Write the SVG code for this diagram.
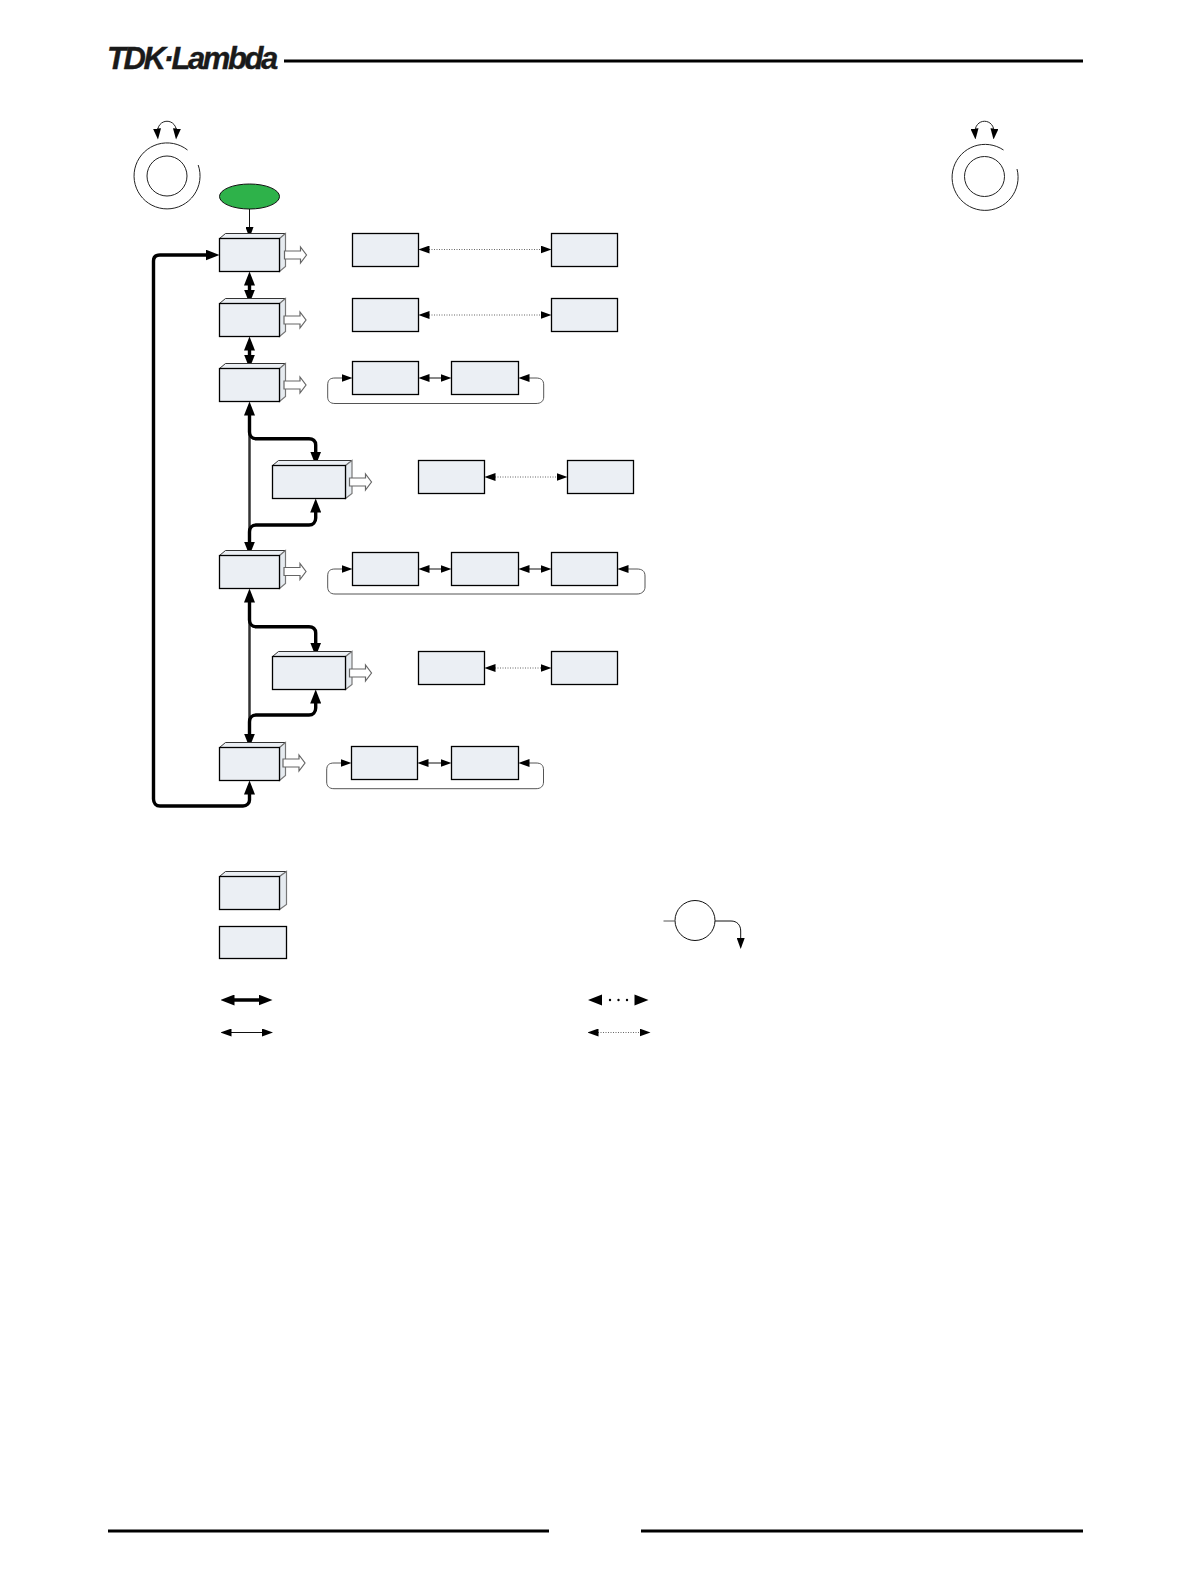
<svg xmlns="http://www.w3.org/2000/svg" width="1191" height="1588" viewBox="0 0 1191 1588">
<style>
.box{fill:#ebeff4;stroke:#000;stroke-width:1.3;stroke-linejoin:miter}
.face{fill:#ebeff4;stroke:#333;stroke-width:1}
.side{fill:#e6ebf0;stroke:#777;stroke-width:1.2}
.out{fill:#fff;stroke:#666;stroke-width:1.2}
.rule{stroke:#000;stroke-width:3;fill:none}
.thick{fill:none;stroke:#000;stroke-width:3.400}
.trunk{fill:none;stroke:#333;stroke-width:2.5}
.thin{fill:none;stroke:#111;stroke-width:1}
.loop{fill:none;stroke:#555;stroke-width:1}
.dot{fill:none;stroke:#666;stroke-width:1;stroke-dasharray:1 1.5}
.dial{fill:none;stroke:#222;stroke-width:1}
.big{marker-start:url(#hb);marker-end:url(#hb)}
.endb{marker-end:url(#hb)}
.small{marker-start:url(#hs);marker-end:url(#hs)}
.ends{marker-end:url(#hs)}
</style>
<defs>
<marker id="hb" markerUnits="userSpaceOnUse" viewBox="0 0 14 11" refX="7" refY="5.500" markerWidth="14" markerHeight="11" orient="auto-start-reverse"><path d="M0 0L14 5.500L0 11Z" fill="#000"/></marker>
<marker id="hs" markerUnits="userSpaceOnUse" viewBox="0 0 11 8" refX="5.500" refY="4" markerWidth="11" markerHeight="8" orient="auto-start-reverse"><path d="M0 0L11 4L0 8Z" fill="#000"/></marker>
</defs>
<g id="header">
<text x="107" y="69" font-family="'Liberation Sans',Arial,sans-serif" font-weight="700" font-style="italic" font-size="31" letter-spacing="-2.4" fill="#1a1a1a" stroke="#1a1a1a" stroke-width="0.4">TDK·Lambda</text>
<path class="rule" d="M284 61H1083"/>
</g>
<g id="footer"><path class="rule" d="M108 1531H549M641 1531H1083"/></g>
<g id="dial-left"><circle class="dial" cx="167" cy="176" r="20"/><path class="dial" d="M187.500 150A33 33 0 1 0 198.200 165"/><path class="dial small" d="M157.500 134C156 117 178 117 176.500 134"/></g>
<g id="dial-right"><circle class="dial" cx="984.500" cy="176.500" r="20"/><path class="dial" d="M1003.500 150A33 33 0 1 0 1017 169"/><path class="dial small" d="M975 134C973.500 117 995.500 117 994 134"/></g>
<g id="connectors">
<path class="thin ends" d="M249.500 209V232.500"/>
<path class="thick big" d="M249.500 787.500V800C249.500 803 247 806 243 806H160C156 806 153.500 803 153.500 799V261C153.500 257 156 255 160 255H212.500"/>
<path class="thick big" d="M249.500 278.500V296.500"/>
<path class="thick big" d="M249.500 343.500V361.500"/>
<path class="trunk" d="M249.500 408V549"/>
<path class="thick big" d="M249.500 408.500V432C249.500 436 252 438.700 256 438.700H309C313 438.700 315.700 441 315.700 445V458.500"/>
<path class="thick big" d="M315.700 505.500V518C315.700 522 313 525 309 525H256C252 525 249.500 528 249.500 532V548.500"/>
<path class="trunk" d="M249.500 595V741"/>
<path class="thick big" d="M249.500 595.500V620C249.500 624 252 626.700 256 626.700H309C313 626.700 315.700 629 315.700 633V649.500"/>
<path class="thick big" d="M315.700 696.500V708C315.700 712 313 715 309 715H256C252 715 249.500 718 249.500 722V740.500"/>
<path class="dot small" d="M424 249.500H546"/>
<path class="dot small" d="M424 315H546"/>
<path class="thin small" d="M424 378H446"/>
<path class="loop small" d="M524 378H536C541 378 543.700 380 543.700 385V397C543.700 401 541 403.500 536 403.500H335C330 403.500 327.700 401 327.700 397V385C327.700 380 330 378 335 378H347"/>
<path class="dot small" d="M490 477H562"/>
<path class="thin small" d="M424 569H446"/>
<path class="thin small" d="M524 569H546"/>
<path class="loop small" d="M623 569H637C642 569 645 571 645 576V587C645 591 642 594 637 594H335C330 594 327.700 591 327.700 587V576C327.700 571 330 569 335 569H347"/>
<path class="dot small" d="M490 668H546"/>
<path class="thin small" d="M423 763H446"/>
<path class="loop small" d="M524 763H536C541 763 543.500 765 543.500 770V782C543.500 786 541 788.700 536 788.700H334C329 788.700 326.700 786 326.700 782V770C326.700 765 329 763 334 763H346"/>
</g>
<g id="start"><ellipse cx="249.500" cy="196.500" rx="30" ry="12.500" fill="#2eb24a" stroke="#111" stroke-width="1"/></g>
<g id="n1"><path class="face" d="M219.500 238.500L225.500 233.500H285.500L279.500 238.500Z"/><path class="side" d="M279.500 238.500L285.500 233.500V266.500L279.500 271.500Z"/><rect class="box" x="219.500" y="238.500" width="60" height="33"/><path class="out" d="M284.500 251H300.500V247L306.500 255L300.500 263V259H284.500Z"/></g>
<g id="n2"><path class="face" d="M219.500 303.500L225.500 298.500H285.500L279.500 303.500Z"/><path class="side" d="M279.500 303.500L285.500 298.500V331.500L279.500 336.500Z"/><rect class="box" x="219.500" y="303.500" width="60" height="33"/><path class="out" d="M284 316H300V312L306 320L300 328V324H284Z"/></g>
<g id="n3"><path class="face" d="M219.500 368.500L225.500 363.500H285.500L279.500 368.500Z"/><path class="side" d="M279.500 368.500L285.500 363.500V396.500L279.500 401.500Z"/><rect class="box" x="219.500" y="368.500" width="60" height="33"/><path class="out" d="M284 381H300V377L306 385L300 393V389H284Z"/></g>
<g id="s1"><path class="face" d="M272.500 465.500L278.500 460.500H352L345.500 465.500Z"/><path class="side" d="M345.500 465.500L352 460.500V493.500L345.500 498.500Z"/><rect class="box" x="272.500" y="465.500" width="73" height="33"/><path class="out" d="M349.500 478H365.500V474L371.500 482L365.500 490V486H349.500Z"/></g>
<g id="n4"><path class="face" d="M219.500 555.500L225.500 550.500H285.500L279.500 555.500Z"/><path class="side" d="M279.500 555.500L285.500 550.500V583.500L279.500 588.500Z"/><rect class="box" x="219.500" y="555.500" width="60" height="33"/><path class="out" d="M284 567.500H300V563.500L306 571.500L300 579.500V575.500H284Z"/></g>
<g id="s2"><path class="face" d="M272.500 656.500L278.500 651.500H352L345.500 656.500Z"/><path class="side" d="M345.500 656.500L352 651.500V684.500L345.500 689.500Z"/><rect class="box" x="272.500" y="656.500" width="73" height="33"/><path class="out" d="M349.500 669H365.500V665L371.500 673L365.500 681V677H349.500Z"/></g>
<g id="n5"><path class="face" d="M219.500 747.500L225.500 742.500H285.500L279.500 747.500Z"/><path class="side" d="M279.500 747.500L285.500 742.500V775.500L279.500 780.500Z"/><rect class="box" x="219.500" y="747.500" width="60" height="33"/><path class="out" d="M283 759H299V755L305 763L299 771V767H283Z"/></g>
<g id="r1a"><rect class="box" x="352.500" y="233.500" width="66" height="33"/></g>
<g id="r1b"><rect class="box" x="551.500" y="233.500" width="66" height="33"/></g>
<g id="r2a"><rect class="box" x="352.500" y="298.500" width="66" height="33"/></g>
<g id="r2b"><rect class="box" x="551.500" y="298.500" width="66" height="33"/></g>
<g id="r3a"><rect class="box" x="352.500" y="361.500" width="66" height="33"/></g>
<g id="r3b"><rect class="box" x="451.500" y="361.500" width="67" height="33"/></g>
<g id="s1a"><rect class="box" x="418.500" y="460.500" width="66" height="33"/></g>
<g id="s1b"><rect class="box" x="567.500" y="460.500" width="66" height="33"/></g>
<g id="r4a"><rect class="box" x="352.500" y="552.500" width="66" height="33"/></g>
<g id="r4b"><rect class="box" x="451.500" y="552.500" width="67" height="33"/></g>
<g id="r4c"><rect class="box" x="551.500" y="552.500" width="66" height="33"/></g>
<g id="s2a"><rect class="box" x="418.500" y="651.500" width="66" height="33"/></g>
<g id="s2b"><rect class="box" x="551.500" y="651.500" width="66" height="33"/></g>
<g id="r5a"><rect class="box" x="351.500" y="746.500" width="66" height="33"/></g>
<g id="r5b"><rect class="box" x="451.500" y="746.500" width="67" height="33"/></g>
<g id="legend">
<path class="face" d="M219.500 876.500L225.500 871.500H286.500L279.500 876.500Z"/><path class="side" d="M279.500 876.500L286.500 871.500V904.500L279.500 909.500Z"/><rect class="box" x="219.500" y="876.500" width="60" height="33"/>
<rect class="box" x="219.500" y="926.500" width="67" height="32"/>
<circle cx="695" cy="920.500" r="20" fill="#fff" stroke="#111" stroke-width="1"/>
<path class="loop" d="M663.500 921H675"/>
<path class="thin ends" d="M715 921H731C737 921 740.700 925 740.700 931V943.500"/>
<path class="thick big" d="M227.500 1000H265.500"/>
<path class="thin small" d="M226 1032.500H267.500"/>
<path d="M588 1000L602 994.500V1005.500Z M648.500 1000L634.500 994.500V1005.500Z" fill="#000"/>
<circle cx="610" cy="1000" r="1.200"/><circle cx="618.500" cy="1000" r="1.200"/><circle cx="627" cy="1000" r="1.200"/>
<path class="dot small" d="M593 1032.500H645"/>
</g>
</svg>
